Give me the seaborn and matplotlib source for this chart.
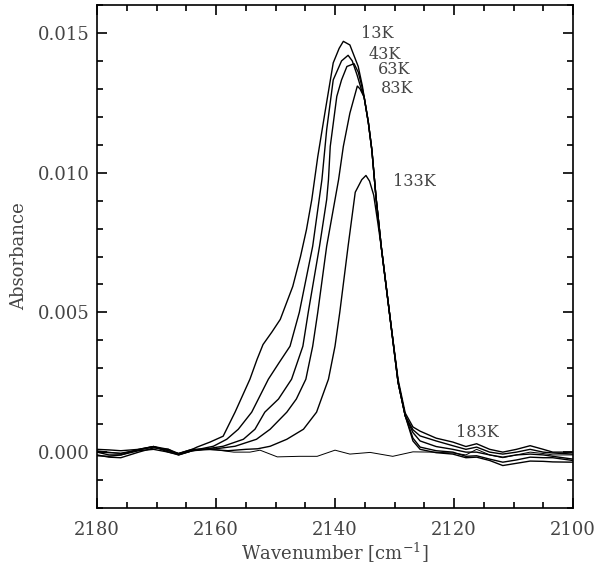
import numpy as np
import pandas as pd
import matplotlib
matplotlib.use("Agg")
import matplotlib.pyplot as plt
from matplotlib.ticker import MultipleLocator, FormatStrFormatter
import seaborn as sns

# spectra: wavenumber [cm^-1] and absorbance per temperature
wn_13K = [2180, 2178, 2176, 2173, 2170.5, 2168, 2166.3, 2164, 2163.2, 2161, 2158.8, 2156.8,
          2154.3, 2153.1, 2152.1, 2150.6, 2149.2, 2147.1, 2145.8, 2144.8, 2143.9, 2142.9,
          2141.7, 2140.3, 2139.3, 2138.6, 2137.5, 2136.1, 2135.4, 2135.1, 2134.4, 2133.8,
          2133.1, 2132.2, 2130.8, 2129.4, 2128.2, 2126.9, 2125.7, 2123, 2120.2, 2118, 2116.2,
          2114, 2111.8, 2109.5, 2107.2, 2105, 2103.4, 2100]
abs_13K = [0.0, -0.0001, -0.0001, 0.0001, 0.0002, 0.0001, -0.00005, 0.0001, 0.00018, 0.00036,
           0.00057, 0.00143, 0.00261, 0.00332, 0.00385, 0.0043, 0.00475, 0.00593, 0.0070,
           0.00796, 0.00904, 0.01057, 0.01214, 0.01393, 0.01445, 0.0147, 0.01457, 0.0138,
           0.0131, 0.0127, 0.0118, 0.0108, 0.0091, 0.0073, 0.0049, 0.0026, 0.0014, 0.0009,
           0.00075, 0.0005, 0.00036, 0.0002, 0.0003, 0.0001, 0.0, 0.0001, 0.00023, 0.0001,
           0.0, 0.0]

wn_43K = [2180, 2178, 2176, 2173, 2170.5, 2168, 2166.3, 2164, 2162.5, 2160.45, 2158.2, 2156.25,
          2154.0, 2151.2, 2149.4, 2147.56, 2146.0, 2143.75, 2142.2, 2141.4, 2140.3, 2138.9,
          2137.8, 2137.1, 2136.3, 2135.6, 2135.1, 2134.4, 2133.8, 2133.1, 2132.2, 2130.8,
          2129.4, 2128.2, 2126.9, 2125.7, 2123, 2120.2, 2118, 2116.2, 2114, 2111.8, 2109.5,
          2107.2, 2105, 2103.4, 2100]
abs_43K = [-0.0001, -0.00018, -0.0002, 0.0, 0.00015, 0.0001, -0.0001, 0.00005, 0.00012, 0.00021,
           0.00046, 0.00082, 0.00143, 0.00261, 0.0032, 0.00379, 0.005, 0.00737, 0.00975,
           0.01154, 0.01332, 0.0140, 0.0142, 0.0140, 0.0135, 0.0130, 0.0127, 0.0118, 0.0108,
           0.0091, 0.0073, 0.0049, 0.0025, 0.0013, 0.0008, 0.00058, 0.0004, 0.00023, 0.0001,
           0.00018, 0.0, -0.00007, 0.0, 0.0001, 0.0, -0.00003, -0.00007]

wn_63K = [2180, 2178, 2176, 2173, 2170.5, 2168, 2166.3, 2164, 2161.5, 2158.8, 2155.4, 2153.45,
          2151.8, 2149.5, 2147.3, 2145.4, 2144.5, 2142.6, 2141.4, 2141.1, 2140.8, 2139.7,
          2138.9, 2138.0, 2136.8, 2136.1, 2135.5, 2135.1, 2134.4, 2133.8, 2133.1, 2132.2,
          2130.8, 2129.4, 2128.2, 2126.9, 2125.7, 2123, 2120.2, 2118, 2116.2, 2114, 2111.8,
          2109.5, 2107.2, 2105, 2103.4, 2100]
abs_63K = [0.0001, 0.00008, 0.00005, 0.0001, 0.0002, 0.0, -0.0001, 0.00005, 0.00012, 0.00021,
           0.00046, 0.00082, 0.00143, 0.0019, 0.00261, 0.00379, 0.005, 0.00737, 0.00904,
           0.00975, 0.01094, 0.01273, 0.01332, 0.0138, 0.0139, 0.0136, 0.0131, 0.0127, 0.0118,
           0.0108, 0.0091, 0.0073, 0.0049, 0.0025, 0.0013, 0.0007, 0.0004, 0.0002, 0.0001, 0.0,
           0.0, -0.0001, -0.00018, -0.0001, -0.00007, -0.0001, -0.00015, -0.00025]

wn_83K = [2180, 2178, 2176, 2173, 2170.5, 2168, 2166.3, 2164, 2160, 2156.8, 2153.2, 2150.9,
          2148.1, 2146.5, 2144.9, 2143.75, 2142.9, 2141.4, 2139.4, 2138.6, 2137.5, 2136.25,
          2135.8, 2135.1, 2134.4, 2133.8, 2133.1, 2132.2, 2130.8, 2129.4, 2128.2, 2126.9,
          2125.7, 2123, 2120.2, 2118, 2116.2, 2114, 2111.8, 2109.5, 2107.2, 2105, 2103.4, 2100]
abs_83K = [0.00002, -0.00002, -0.00004, 0.00008, 0.0002, 0.00005, -0.00005, 0.0001, 0.00012,
           0.00021, 0.00046, 0.00082, 0.00143, 0.0019, 0.00261, 0.00379, 0.005, 0.00737,
           0.00975, 0.01094, 0.01213, 0.0131, 0.0130, 0.0127, 0.0118, 0.0108, 0.0091, 0.0073,
           0.0049, 0.0025, 0.0013, 0.0005, 0.00018, 0.00005, 0.0, -0.00015, -0.00013, -0.00025,
           -0.00036, -0.00028, -0.00018, -0.0002, -0.0002, -0.0003]

wn_133K = [2180, 2178, 2176, 2173, 2170.5, 2168, 2166.3, 2164, 2161, 2158, 2155, 2153, 2150.9,
           2148.1, 2145.3, 2143.1, 2141.1, 2140.0, 2139.2, 2137.8, 2136.6, 2135.5, 2134.8,
           2134.2, 2133.5, 2132.8, 2132.2, 2130.8, 2129.4, 2128.2, 2126.9, 2125.7, 2123,
           2120.2, 2118, 2116.2, 2114, 2111.8, 2109.5, 2107.2, 2105, 2103.4, 2100]
abs_133K = [-0.00013, -0.00015, -0.0001, 0.00005, 0.0001, 0.0, -0.00008, 0.00005, 0.0001,
            0.00005, 0.0001, 0.00012, 0.00021, 0.00046, 0.00082, 0.00143, 0.00261, 0.00379,
            0.005, 0.00737, 0.0093, 0.00975, 0.0099, 0.0097, 0.0092, 0.0082, 0.0073, 0.0049,
            0.0025, 0.0013, 0.0004, 0.0001, -0.00002, -0.00007, -0.0002, -0.00018, -0.0003,
            -0.00048, -0.0004, -0.00032, -0.00033, -0.00035, -0.00036]

wn_183K = [2180, 2178, 2176, 2173, 2170.5, 2168, 2166.3, 2164, 2162.7, 2160, 2157, 2154.3,
           2152.6, 2149.7, 2146, 2143, 2140, 2137.5, 2134.1, 2130.3, 2126.9, 2123.5, 2120.2,
           2118, 2116.2, 2114, 2111.8, 2109.5, 2107.2, 2105, 2103.4, 2100]
abs_183K = [0.00005, 0.0, -0.00005, 0.00008, 0.00018, 0.00005, -0.00005, 0.00008, 0.0001,
            0.00008, 0.0, 0.0, 0.00007, -0.00017, -0.00015, -0.00015, 0.00007, -0.00007,
            -0.00001, -0.00015, 0.00001, 0.0, -0.00003, -0.0001, 0.0001, -0.0001, -0.0002,
            -0.0001, 0.0, -0.00005, -0.0001, -0.0001]

# temperature labels and where they sit (data coords)
labels = ["13K", "43K", "63K", "83K", "133K", "183K"]
label_wn = [2132.9, 2131.6, 2130.0, 2129.5, 2126.6, 2116.0]
label_abs = [0.01498, 0.01424, 0.01368, 0.01302, 0.0097, 0.0007]

sns.set_style("ticks")
plt.rcParams["font.family"] = ["DejaVu Serif"]
plt.rcParams["mathtext.fontset"] = "dejavuserif"

fig = plt.figure(figsize=(6, 5.68), dpi=100)
ax = fig.add_axes([0.1617, 0.1056, 0.7933, 0.8856])

curves = [(wn_13K, abs_13K), (wn_43K, abs_43K), (wn_63K, abs_63K),
          (wn_83K, abs_83K), (wn_133K, abs_133K)]
for w, a in curves:
    sns.lineplot(x=w, y=a, ax=ax, color="black", lw=1.0, sort=False, estimator=None)
sns.lineplot(x=wn_183K, y=abs_183K, ax=ax, color="black", lw=0.7, sort=False, estimator=None)

txt_col = "#444444"
for lab, x, y in zip(labels, label_wn, label_abs):
    ax.text(x, y, lab, ha="center", va="center", fontsize=11.5, color=txt_col)

ax.set_xlim(2180, 2100)
ax.set_ylim(-0.002, 0.016)
ax.xaxis.set_major_locator(MultipleLocator(20))
ax.xaxis.set_minor_locator(MultipleLocator(5))
ax.yaxis.set_major_locator(MultipleLocator(0.005))
ax.yaxis.set_minor_locator(MultipleLocator(0.001))
ax.yaxis.set_major_formatter(FormatStrFormatter("%.3f"))

ax.tick_params(which="both", direction="in", top=True, right=True, width=1.2, colors="black",
               labelcolor=txt_col, labelsize=13)
ax.tick_params(which="major", length=7.5)
ax.tick_params(which="minor", length=4)
ax.tick_params(axis="x", pad=9)
ax.tick_params(axis="y", pad=5)
for s in ax.spines.values():
    s.set_linewidth(1.2)
    s.set_color("black")

ax.set_xlabel(r"Wavenumber [cm$^{-1}$]", fontsize=13, color=txt_col)
ax.set_ylabel("Absorbance", fontsize=13, color=txt_col)
ax.xaxis.set_label_coords(0.5, -0.066)
ax.yaxis.set_label_coords(-0.145, 0.5)

fig.savefig("out.png", dpi=100)
